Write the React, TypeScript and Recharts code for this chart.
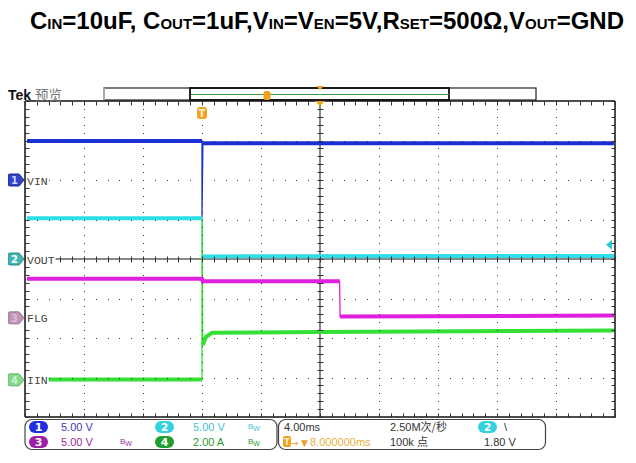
import React from "react";
import { ComposedChart, Line, XAxis, YAxis, ReferenceLine } from "recharts";

const W = 636;
const H = 463;

// 4.00ms/div horizontal, 8 divisions vertical
const TIME_TICKS = [0, 4, 8, 12, 16, 20, 24, 28, 32, 36, 40];
const DIV_TICKS = [-4, -3, -2, -1, 0, 1, 2, 3, 4];
const MINOR_T = Array.from({ length: 51 }, (_, i) => i * 0.8);
const MINOR_DIV = Array.from({ length: 41 }, (_, i) => -4 + i * 0.2);

const TRIGGER_T = 12;
const TRIGGER_LEVEL = 1.8; // V on ch2

// scope readings: t in ms, v in V (A for IIN)
const vinTrace = [
  { t: 0.14, v: 4.94 },
  { t: 12.0, v: 4.94 },
  { t: 12.0, v: -4.7 },
  { t: 12.06, v: 4.64 },
  { t: 39.93, v: 4.64 },
];
const voutTrace = [
  { t: 0.14, v: 5.15 },
  { t: 12.0, v: 5.15 },
  { t: 12.02, v: 0.33 },
  { t: 39.93, v: 0.38 },
];
const flgTrace = [
  { t: 0.14, v: 4.94 },
  { t: 12.0, v: 4.94 },
  { t: 12.05, v: 4.62 },
  { t: 21.33, v: 4.62 },
  { t: 21.36, v: 0.16 },
  { t: 39.93, v: 0.29 },
];
const iinTrace = [
  { t: 0.14, v: 0.02 },
  { t: 12.0, v: 0.02 },
  { t: 12.0, v: 8.2 },
  { t: 12.05, v: 1.77 },
  { t: 12.27, v: 2.18 },
  { t: 12.68, v: 2.38 },
  { t: 20.0, v: 2.43 },
  { t: 39.93, v: 2.5 },
];

const CHANNELS = [
  { id: "1", name: "VIN", data: vinTrace, scale: 5, offset: 2, color: "#1a30d4", tag: "#3144c6", tagEdge: "#1b2690", tagText: "#c8d4ff" },
  { id: "2", name: "VOUT", data: voutTrace, scale: 5, offset: 0, color: "#2fdde6", tag: "#43b6b4", tagEdge: "#2c8a88", tagText: "#ffffff" },
  { id: "3", name: "FLG", data: flgTrace, scale: 5, offset: -1.49, color: "#e020de", tag: "#bf93b6", tagEdge: "#9d7395", tagText: "#dcc0d6" },
  { id: "4", name: "IIN", data: iinTrace, scale: 2, offset: -3.06, color: "#34e034", tag: "#86d68e", tagEdge: "#64b56c", tagText: "#c8f0cc" },
];

type Pt = { t: number; y: number | null };

const toDivs = (ch: (typeof CHANNELS)[number]): Pt[] =>
  ch.data.map((p) => ({ t: p.t, y: ch.offset + p.v / ch.scale }));

// thick band only on the flat parts, the fast edges stay thin
const bandOf = (pts: Pt[]): Pt[] => {
  const out: Pt[] = [];
  pts.forEach((p, i) => {
    const q = pts[i - 1];
    if (q && Math.abs((p.y as number) - (q.y as number)) > 0.3 && p.t - q.t < 0.3) out.push({ t: p.t, y: null });
    out.push(p);
  });
  return out;
};

// dotted graticule: a dot at every minor step along each major line
const innerT = TIME_TICKS.filter((t) => t !== 0 && t !== 20 && t !== 40);
const innerDiv = DIV_TICKS.filter((d) => d !== 0 && d !== 4 && d !== -4);
const gridDots: Pt[] = [
  ...innerDiv.flatMap((y) => MINOR_T.map((t) => ({ t, y }))),
  ...innerT.flatMap((t) => MINOR_DIV.map((y) => ({ t, y }))),
];

const tickShape = (dx1: number, dy1: number, dx2: number, dy2: number) => (p: any) => (
  <line
    key={p.index}
    x1={Math.round(p.cx) + dx1 + 0.5}
    y1={Math.round(p.cy) + dy1 + 0.5}
    x2={Math.round(p.cx) + dx2 + 0.5}
    y2={Math.round(p.cy) + dy2 + 0.5}
    stroke="#333"
    strokeWidth={1}
  />
);

const GridDot = (p: any) => (
  <rect key={p.index} x={Math.round(p.cx)} y={Math.round(p.cy)} width={1} height={1} fill="#333" />
);

const ChannelTag = (ch: (typeof CHANNELS)[number]) => (p: any) => {
  const { cx, cy } = p;
  const w = ch.name.length * 6.9 + 2;
  return (
    <g key={p.index}>
      <rect x={cx + 1} y={cy - 6} width={w} height={12} fill="#fff" />
      <path
        d={`M${cx - 15} ${cy - 6} H${cx - 6} L${cx - 1} ${cy} L${cx - 6} ${cy + 6} H${cx - 15} Q${cx - 17} ${cy + 6} ${cx - 17} ${cy + 4} V${cy - 4} Q${cx - 17} ${cy - 6} ${cx - 15} ${cy - 6} Z`}
        fill={ch.tag}
        stroke={ch.tagEdge}
        strokeWidth={1}
      />
      <text x={cx - 10.5} y={cy + 4} textAnchor="middle" fontSize={10} fontWeight="bold" fontFamily="DejaVu Sans" fill={ch.tagText}>
        {ch.id}
      </text>
      <text x={cx + 2} y={cy + 4.5} fontSize={11.5} fontFamily="Liberation Mono" fill="#444">
        {ch.name}
      </text>
    </g>
  );
};

const TriggerTag = (p: any) => (
  <g key={p.index}>
    <rect x={p.cx - 5} y={p.cy + 6} width={10} height={12} rx={3} fill="#f0a21e" />
    <text x={p.cx} y={p.cy + 16} textAnchor="middle" fontSize={10} fontWeight="bold" fontFamily="DejaVu Sans" fill="#fff4dc">
      T
    </text>
  </g>
);

const CenterMark = (p: any) => (
  <path key={p.index} d={`M${p.cx - 5} ${p.cy} L${p.cx + 5} ${p.cy} L${p.cx} ${p.cy + 5} Z`} fill="#f0a21e" />
);

const LevelArrow = (p: any) => (
  <path key={p.index} d={`M${p.cx - 9} ${p.cy} L${p.cx - 3} ${p.cy - 5} L${p.cx - 3} ${p.cy + 5} Z`} fill="#2fc9d4" />
);

const Badge = ({ x, y, n, fill }: { x: number; y: number; n: string; fill: string }) => (
  <g>
    <rect x={x} y={y} width={19} height={12} rx={6} fill={fill} />
    <text x={x + 9.5} y={y + 10} textAnchor="middle" fontSize={11} fontWeight="bold" fontFamily="DejaVu Sans" fill="#fff">
      {n}
    </text>
  </g>
);

const Bw = ({ x, y, color }: { x: number; y: number; color: string }) => (
  <text x={x} y={y} fontSize={8} fontFamily="Liberation Sans" fill={color}>
    B<tspan fontSize={7} dy={2}>W</tspan>
  </text>
);

function Overlay() {
  const sub = 15;
  const sans = "Liberation Sans, Arial, sans-serif";
  const ui = "Liberation Sans, Arial, sans-serif";
  return (
    <svg width={W} height={H} style={{ position: "absolute", left: 0, top: 0, pointerEvents: "none" }}>
      <text x={30} y={29} fontFamily={sans} fontWeight="bold" fontSize={24} fill="#000">
        C<tspan fontSize={sub}>IN</tspan>
        <tspan>{"=10uF, C"}</tspan>
        <tspan fontSize={sub}>OUT</tspan>
        <tspan>{"=1uF,V"}</tspan>
        <tspan fontSize={sub}>IN</tspan>
        <tspan>{"=V"}</tspan>
        <tspan fontSize={sub}>EN</tspan>
        <tspan>{"=5V,R"}</tspan>
        <tspan fontSize={sub}>SET</tspan>
        <tspan>{"=500Ω,V"}</tspan>
        <tspan fontSize={sub}>OUT</tspan>
        <tspan>{"=GND"}</tspan>
      </text>

      <text x={8} y={100} fontFamily={sans} fontWeight="bold" fontSize={14} fill="#111">
        Tek
      </text>
      <text x={35} y={100} fontFamily="Noto Sans CJK SC" fontSize={13.5} fill="#777">
        预览
      </text>

      {/* record overview bar */}
      <rect x={104} y={88} width={432} height={12} fill="#fff" stroke="#222" strokeWidth={1.2} />
      <line x1={104} y1={88} x2={104} y2={100} stroke="#aaa" strokeWidth={2} />
      <rect x={190} y={88} width={259} height={12} fill="none" stroke="#111" strokeWidth={1.8} />
      <line x1={191} y1={94.5} x2={449} y2={94.5} stroke="#3d9b3d" strokeWidth={1} />
      <rect x={263.5} y={91} width={7} height={9} rx={2} fill="#f0a21e" />
      <path d="M316 86 L324 86 L320 90 Z" fill="#f0a21e" />

      {/* channel status box */}
      <rect x={25} y={419.5} width={252} height={30} rx={7} fill="none" stroke="#444" strokeWidth={1.2} />
      <Badge x={29} y={421} n="1" fill="#1f2fe2" />
      <text x={61} y={431} fontFamily={ui} fontSize={11} fill="#3a3ac0">5.00 V</text>
      <Badge x={155} y={421} n="2" fill="#34d2e0" />
      <text x={193} y={431} fontFamily={ui} fontSize={11} fill="#3fc6d6">5.00 V</text>
      <Bw x={248} y={429} color="#3fc6d6" />
      <Badge x={29} y={436} n="3" fill="#a01ea6" />
      <text x={61} y={446} fontFamily={ui} fontSize={11} fill="#9a2a9e">5.00 V</text>
      <Bw x={120} y={444} color="#9a2a9e" />
      <Badge x={155} y={436} n="4" fill="#1fa02e" />
      <text x={193} y={446} fontFamily={ui} fontSize={11} fill="#2a9a2e">2.00 A</text>
      <Bw x={248} y={444} color="#2a9a2e" />

      {/* timebase / trigger box */}
      <rect x={278.5} y={419.5} width={267} height={30} rx={7} fill="none" stroke="#444" strokeWidth={1.2} />
      <text x={284} y={431} fontFamily={ui} fontSize={11} fill="#333">4.00ms</text>
      <text x={390} y={431} fontFamily={ui} fontSize={11} fill="#333">
        2.50M<tspan fontFamily="Noto Sans CJK SC">次/秒</tspan>
      </text>
      <Badge x={478} y={421} n="2" fill="#34d2e0" />
      <text x={504} y={431} fontFamily={ui} fontSize={11} fill="#333">\</text>
      <rect x={283} y={436} width={8} height={11} rx={2} fill="#f0a21e" />
      <text x={287} y={445} textAnchor="middle" fontFamily="DejaVu Sans" fontWeight="bold" fontSize={8} fill="#fff4dc">T</text>
      <text x={291} y={446} fontFamily="DejaVu Sans" fontSize={9} fill="#e8a030">→</text>
      <text x={301} y={446} fontFamily="DejaVu Sans" fontSize={9} fill="#e8a030">▼</text>
      <text x={310} y={446} fontFamily={ui} fontSize={11} fill="#e8b040">8.000000ms</text>
      <text x={390} y={446} fontFamily={ui} fontSize={11} fill="#333">
        100k <tspan fontFamily="Noto Sans CJK SC">点</tspan>
      </text>
      <text x={484} y={446} fontFamily={ui} fontSize={11} fill="#333">1.80 V</text>
    </svg>
  );
}

export default function App() {
  const traces = CHANNELS.map((ch) => ({ ch, pts: toDivs(ch) }));
  return (
    <div style={{ position: "relative", width: W, height: H, margin: -8, background: "#fff" }}>
      <ComposedChart width={W} height={H} margin={{ top: 101, right: 21, bottom: 46, left: 25 }}>
        <XAxis type="number" dataKey="t" domain={[0, 40]} ticks={TIME_TICKS} hide />
        <YAxis type="number" dataKey="y" domain={[-4, 4]} ticks={DIV_TICKS} hide />

        <Line data={gridDots} dataKey="y" stroke="none" dot={GridDot} activeDot={false} isAnimationActive={false} />
        <ReferenceLine x={20} stroke="#111" strokeWidth={1} />
        <ReferenceLine y={0} stroke="#111" strokeWidth={1} />
        <ReferenceLine x={0} stroke="#111" strokeWidth={1.5} />
        <ReferenceLine x={40} stroke="#111" strokeWidth={1.5} />
        <ReferenceLine y={4} stroke="#111" strokeWidth={1.5} />
        <ReferenceLine y={-4} stroke="#111" strokeWidth={1.5} />

        <Line data={MINOR_T.map((t) => ({ t, y: 4 }))} dataKey="y" stroke="none" dot={tickShape(0, 0, 0, 4)} activeDot={false} isAnimationActive={false} />
        <Line data={MINOR_T.map((t) => ({ t, y: -4 }))} dataKey="y" stroke="none" dot={tickShape(0, 0, 0, -4)} activeDot={false} isAnimationActive={false} />
        <Line data={MINOR_DIV.map((y) => ({ t: 0, y }))} dataKey="y" stroke="none" dot={tickShape(0, 0, 4, 0)} activeDot={false} isAnimationActive={false} />
        <Line data={MINOR_DIV.map((y) => ({ t: 40, y }))} dataKey="y" stroke="none" dot={tickShape(0, 0, -4, 0)} activeDot={false} isAnimationActive={false} />
        <Line data={MINOR_T.map((t) => ({ t, y: 0 }))} dataKey="y" stroke="none" dot={tickShape(0, -3, 0, 3)} activeDot={false} isAnimationActive={false} />
        <Line data={MINOR_DIV.map((y) => ({ t: 20, y }))} dataKey="y" stroke="none" dot={tickShape(-3, 0, 3, 0)} activeDot={false} isAnimationActive={false} />

        {traces.map(({ ch, pts }) => (
          <Line key={"e" + ch.id} data={pts} dataKey="y" type="linear" stroke={ch.color} strokeWidth={1.3} dot={false} activeDot={false} isAnimationActive={false} />
        ))}
        {traces.map(({ ch, pts }) => (
          <Line key={"b" + ch.id} data={bandOf(pts)} dataKey="y" type="linear" stroke={ch.color} strokeWidth={4} dot={false} activeDot={false} isAnimationActive={false} />
        ))}

        {CHANNELS.map((ch) => (
          <Line key={"m" + ch.id} data={[{ t: 0, y: ch.offset }]} dataKey="y" stroke="none" dot={ChannelTag(ch)} activeDot={false} isAnimationActive={false} />
        ))}
        <Line data={[{ t: TRIGGER_T, y: 4 }]} dataKey="y" stroke="none" dot={TriggerTag} activeDot={false} isAnimationActive={false} />
        <Line data={[{ t: 20, y: 4 }]} dataKey="y" stroke="none" dot={CenterMark} activeDot={false} isAnimationActive={false} />
        <Line data={[{ t: 40, y: TRIGGER_LEVEL / 5 }]} dataKey="y" stroke="none" dot={LevelArrow} activeDot={false} isAnimationActive={false} />
      </ComposedChart>
      <Overlay />
    </div>
  );
}
